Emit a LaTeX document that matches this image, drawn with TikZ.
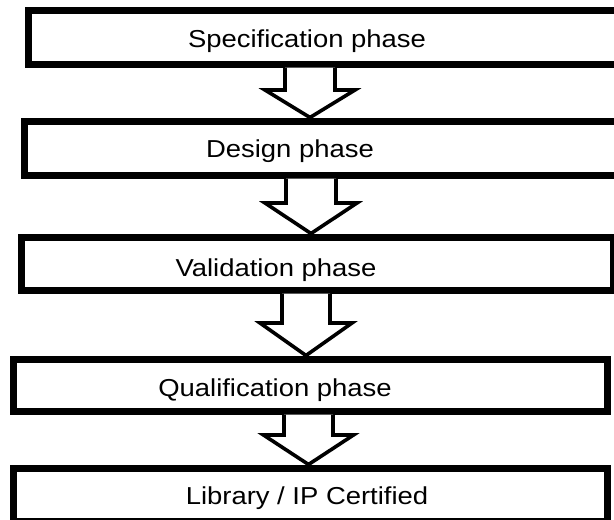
\documentclass[tikz,border=0pt]{standalone}
\usepackage{fontspec}
\setmainfont{Liberation Sans}
\usetikzlibrary{calc}

\tikzset{
  phasebox/.style={draw=black, line width=7pt, fill=white, inner sep=0pt,
    rectangle, minimum width=#1},
  phaselabel/.style={anchor=base, inner sep=0pt, text=black,
    font=\fontsize{24.5}{29}\selectfont},
  blockarrow/.style={draw=black, line width=3.6pt, fill=white, line join=miter}
}

% #1 source box, #2 target box, #3 axis x, #4 half shaft width,
% #5 half head width, #6 y of the head's shoulders
\newcommand\phasearrow[6]{%
  \coordinate (ax) at (#3,#6);
  \draw[blockarrow]
    ($(#1.south -| ax)+(-#4,0)$) -- ($(ax)+(-#4,0)$) -- ($(ax)+(-#5,0)$)
    -- (#2.north -| ax)
    -- ($(ax)+(#5,0)$) -- ($(ax)+(#4,0)$) -- ($(#1.south -| ax)+(#4,0)$);
}
\newcommand\wide[1]{\scalebox{1.12}[1]{#1}}

\begin{document}
\begin{tikzpicture}[x=1pt, y=-1pt]
  \useasboundingbox (0,0) rectangle (614,520);
  \fill[white] (0,0) rectangle (614,520);
  \clip (0,0) rectangle (614,520);

  % phase boxes
  \node[phasebox=597pt,   minimum height=54pt] (b1) at (326.5,37)  {};
  \node[phasebox=592.5pt, minimum height=54pt] (b2) at (320.75,148) {};
  \node[phasebox=592pt,   minimum height=53pt] (b3) at (317,263.5) {};
  \node[phasebox=594pt,   minimum height=52pt] (b4) at (310.5,385) {};
  \node[phasebox=594pt,   minimum height=53pt] (b5) at (310.5,494.5) {};

  % box texts
  \node[phaselabel] (t1) at (307,47)  {\wide{Specification phase}};
  \node[phaselabel] (t2) at (290,157) {\wide{Design phase}};
  \node[phaselabel] (t3) at (276,276) {\wide{Validation phase}};
  \node[phaselabel] (t4) at (275,396) {\wide{Qualification phase}};
  \node[phaselabel] (t5) at (307,504) {\wide{Library / IP Certified}};

  % block arrows between phases
  \phasearrow{b1}{b2}{310}{25}{45}{90}
  \phasearrow{b2}{b3}{311}{25}{46}{203}
  \phasearrow{b3}{b4}{306}{24}{46}{323}
  \phasearrow{b4}{b5}{308.5}{24.5}{45}{435}
\end{tikzpicture}
\end{document}
